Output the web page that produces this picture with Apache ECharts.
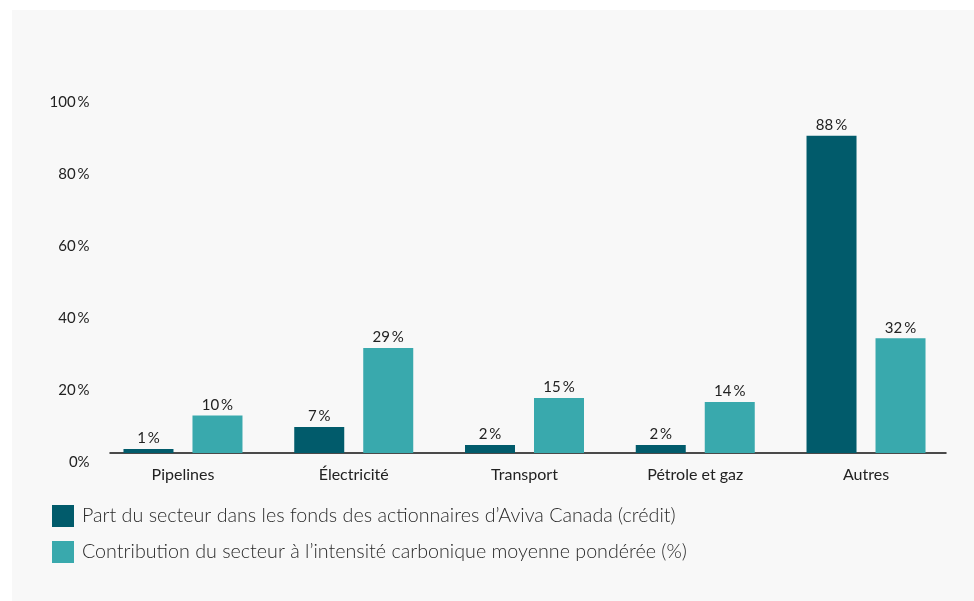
<!DOCTYPE html>
<html>
<head>
<meta charset="utf-8">
<script src="https://cdn.jsdelivr.net/npm/echarts@6/dist/echarts.min.js"></script>
<style>
html,body{margin:0;padding:0;background:#fff;}
#wrap{position:absolute;left:12px;top:10px;width:962px;height:591px;background:#f8f8f8;}
#chart{position:absolute;left:0;top:0;width:974px;height:601px;}
</style>
</head>
<body>
<div id="wrap"></div>
<div id="chart"></div>
<script>
const categories = ['Pipelines', 'Électricité', 'Transport', 'Pétrole et gaz', 'Autres'];
const seriesNames = [
  'Part du secteur dans les fonds des actionnaires d’Aviva Canada (crédit)',
  'Contribution du secteur à l’intensité carbonique moyenne pondérée (%)'
];
const partValues = [1.1, 7.2, 2.2, 2.2, 88.1];
const contributionValues = [10.4, 29.2, 15.3, 14.2, 31.9];
const yTicks = [0, 20, 40, 60, 80, 100];

const FONT = 'Lato';
const TS = '\u2009';
const chart = echarts.init(document.getElementById('chart'), null, {renderer: 'canvas'});
const labelFmt = p => Math.round(p.value) + TS + '%';
chart.setOption({
  backgroundColor: 'transparent',
  animation: false,
  textStyle: {fontFamily: FONT},
  grid: [
    {left: 97.6, right: 22.6, top: 93, bottom: 148, containLabel: false},
    {left: 110, right: 28, top: 93, bottom: 148, containLabel: false}
  ],
  legend: {
    orient: 'vertical',
    left: 52, top: 505, padding: 0,
    itemWidth: 22, itemHeight: 22, itemGap: 14,
    icon: 'rect',
    textStyle: {fontFamily: FONT, fontSize: 19.7, fontWeight: 300, color: '#2a2a2a', padding: [0, 0, 0, 3]},
    data: seriesNames
  },
  xAxis: [
    {
      type: 'category', gridIndex: 0, data: categories,
      axisLine: {show: false}, axisTick: {show: false},
      axisLabel: {fontFamily: FONT, fontSize: 16, color: '#222', margin: 14}
    },
    {
      type: 'category', gridIndex: 1, data: categories,
      axisLine: {show: true, lineStyle: {color: '#111', width: 1.5}},
      axisTick: {show: false}, axisLabel: {show: false}
    }
  ],
  yAxis: [
    {
      type: 'value', gridIndex: 0, min: 0, max: 100, interval: 20,
      axisLine: {show: false}, axisTick: {show: false}, splitLine: {show: false},
      axisLabel: {
        fontFamily: FONT, fontSize: 15, color: '#222', margin: 8,
        verticalAlign: 'top', lineHeight: 19,
        formatter: v => yTicks.includes(v) ? (v === 0 ? '0%' : v + TS + '%') : ''
      }
    },
    {
      type: 'value', gridIndex: 1, min: 0, max: 100, show: false
    }
  ],
  series: [
    {
      name: seriesNames[0], type: 'bar', xAxisIndex: 0, yAxisIndex: 0,
      data: partValues, barWidth: 50, barGap: '38%',
      itemStyle: {color: '#015b6b'},
      label: {show: true, position: 'top', distance: 3, fontFamily: FONT, fontSize: 15, color: '#222', formatter: labelFmt}
    },
    {
      name: seriesNames[1], type: 'bar', xAxisIndex: 0, yAxisIndex: 0,
      data: contributionValues, barWidth: 50, barGap: '38%',
      itemStyle: {color: '#39a9ad'},
      label: {show: true, position: 'top', distance: 3, fontFamily: FONT, fontSize: 15, color: '#222', formatter: labelFmt}
    }
  ]
});
</script>
</body>
</html>
